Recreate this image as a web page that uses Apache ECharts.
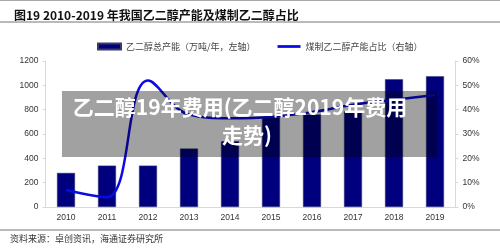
<!DOCTYPE html>
<html lang="zh">
<head>
    <meta charset="UTF-8">
    <title>图19 乙二醇产能及煤制乙二醇占比</title>
    <script src="https://cdn.jsdelivr.net/npm/echarts@6/dist/echarts.min.js"></script>
    <style>
        html, body { margin: 0; padding: 0; background: #fff; }
    </style>
</head>
<body>
    <div id="chart" style="width:500px;height:249px;"></div>
    <script>
        // 数据
        var years = ['2010', '2011', '2012', '2013', '2014', '2015', '2016', '2017', '2018', '2019'];
        var capacity = [280, 340, 340, 480, 540, 740, 760, 785, 1050, 1075];   // 万吨/年
        var coalShare = [7, 4, 52, 38, 36.5, 37, 39, 42, 44, 46];             // %
        var leftTicks = [0, 1200, 200];
        var rightTicks = [0, 60, 10];

        var cjk = '"Noto Sans CJK SC", "Noto Sans", sans-serif';
        var num = '"Liberation Sans", Arial, sans-serif';

        var chart = echarts.init(document.getElementById('chart'));

        var option = {
            animation: false,
            title: {
                text: '图19 2010-2019 年我国乙二醇产能及煤制乙二醇占比',
                left: 9,
                top: 4,
                textStyle: { fontFamily: cjk, fontSize: 12, fontWeight: 'bold', color: '#111' }
            },
            legend: {
                left: 92,
                top: 37,
                itemGap: 22,
                itemWidth: 23,
                itemHeight: 6,
                textStyle: { fontFamily: cjk, fontSize: 9, color: '#444' },
                data: [
                    { name: '乙二醇总产能（万吨/年，左轴）', icon: 'rect' },
                    { name: '煤制乙二醇产能占比（右轴）', icon: 'path://M0,0L25,0L25,3L0,3Z' }
                ]
            },
            grid: { left: 45.5, right: 44.5, top: 61, bottom: 42 },
            xAxis: {
                type: 'category',
                data: years,
                axisLine: { lineStyle: { color: '#d9d9d9' } },
                axisTick: { show: false },
                axisLabel: { fontFamily: num, fontSize: 8.5, color: '#333', margin: 6 }
            },
            yAxis: [
                {
                    type: 'value',
                    min: leftTicks[0], max: leftTicks[1], interval: leftTicks[2],
                    splitLine: { show: false },
                    axisLine: { show: true, lineStyle: { color: '#d9d9d9' } },
                    axisTick: { show: true, length: 3, lineStyle: { color: '#d9d9d9' } },
                    axisLabel: {
                        fontFamily: num, fontSize: 8.5, color: '#333', margin: 7,
                        formatter: function (v) { return String(v); }
                    }
                },
                {
                    type: 'value',
                    min: rightTicks[0], max: rightTicks[1], interval: rightTicks[2],
                    splitLine: { show: false },
                    axisLine: { show: true, lineStyle: { color: '#d9d9d9' } },
                    axisTick: { show: true, length: 3, lineStyle: { color: '#d9d9d9' } },
                    axisLabel: { fontFamily: num, fontSize: 8.5, color: '#333', margin: 7, formatter: '{value}%' }
                }
            ],
            series: [
                {
                    name: '乙二醇总产能（万吨/年，左轴）',
                    type: 'bar',
                    data: capacity,
                    barWidth: 18,
                    itemStyle: { color: '#00007f', borderColor: '#3a3a6a', borderWidth: 0.5 }
                },
                {
                    name: '煤制乙二醇产能占比（右轴）',
                    type: 'line',
                    yAxisIndex: 1,
                    data: coalShare,
                    smooth: 0.4,
                    symbol: 'none',
                    lineStyle: { color: '#0a0ae6', width: 2.5 },
                    itemStyle: { color: '#0a0ae6' }
                }
            ],
            graphic: [
                { type: 'line', shape: { x1: 0, y1: 0.5, x2: 500, y2: 0.5 }, style: { stroke: '#aaa', lineWidth: 1 } },
                { type: 'line', shape: { x1: 0, y1: 22, x2: 500, y2: 22 }, style: { stroke: '#777', lineWidth: 1.2 } },
                { type: 'line', shape: { x1: 0, y1: 230, x2: 500, y2: 230 }, style: { stroke: '#777', lineWidth: 1.2 } },
                {
                    type: 'text', left: 10, top: 234,
                    style: { text: '资料来源：卓创资讯，海通证券研究所', font: '9px ' + cjk, fill: '#333' }
                },
                // 网站水印遮罩
                {
                    type: 'rect', z: 100,
                    shape: { x: 62, y: 91, width: 375, height: 66 },
                    style: { fill: 'rgba(0,0,0,0.37)' }
                },
                {
                    type: 'text', z: 101,
                    x: 240, y: 107,
                    style: {
                        text: '乙二醇19年费用(乙二醇2019年费用',
                        font: 'bold 21px ' + cjk, fill: '#fff', align: 'center', verticalAlign: 'middle'
                    }
                },
                {
                    type: 'text', z: 101,
                    x: 247, y: 135,
                    style: {
                        text: '走势)',
                        font: 'bold 21px ' + cjk, fill: '#fff', align: 'center', verticalAlign: 'middle'
                    }
                }
            ]
        };

        chart.setOption(option);
    </script>
</body>
</html>
